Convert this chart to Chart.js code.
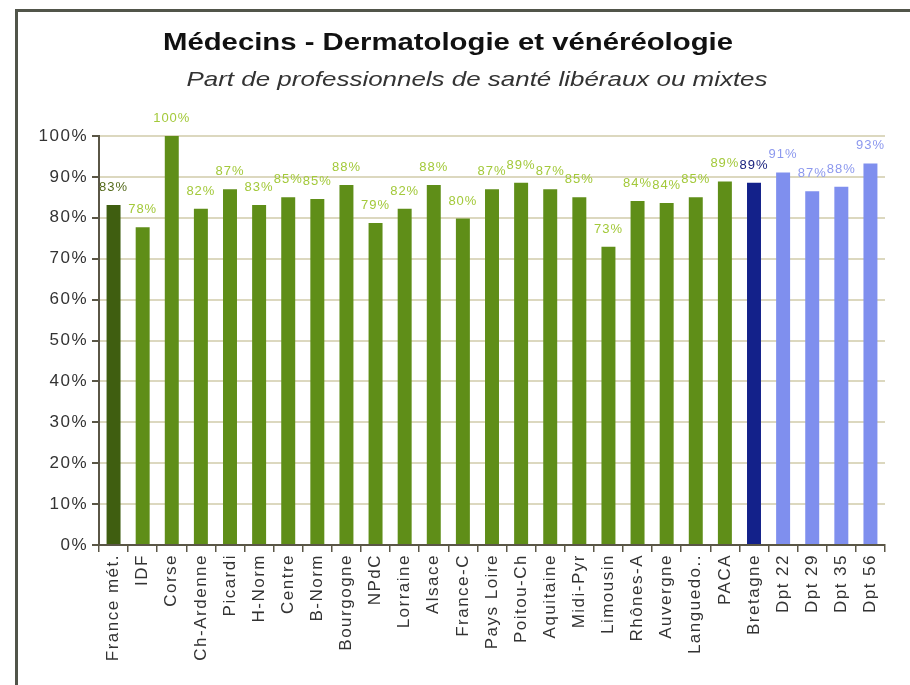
<!DOCTYPE html>
<html>
<head>
<meta charset="utf-8">
<script src="https://cdn.jsdelivr.net/npm/chart.js@4/dist/chart.umd.min.js"></script>
<style>
  html, body { margin: 0; padding: 0; background: #fff; }
  #wrap { position: relative; width: 910px; height: 685px; overflow: hidden; }
  #frame { position: absolute; left: 15px; top: 9px; width: 1000px; height: 800px; border: 3px solid #51554a; box-sizing: border-box; }
  canvas { position: absolute; left: 0; top: 0; }
</style>
</head>
<body>
<div id="wrap">
  <div id="frame"></div>
  <canvas id="chart" width="910" height="685"></canvas>
</div>
<script>
const titleText = 'Médecins - Dermatologie et vénéréologie';
const subtitleText = 'Part de professionnels de santé libéraux ou mixtes';

const categories = ['France mét.', 'IDF', 'Corse', 'Ch-Ardenne', 'Picardi', 'H-Norm', 'Centre', 'B-Norm',
  'Bourgogne', 'NPdC', 'Lorraine', 'Alsace', 'France-C', 'Pays Loire', 'Poitou-Ch', 'Aquitaine',
  'Midi-Pyr', 'Limousin', 'Rhônes-A', 'Auvergne', 'Languedo..', 'PACA', 'Bretagne',
  'Dpt 22', 'Dpt 29', 'Dpt 35', 'Dpt 56'];

const values = [83.1, 77.7, 100, 82.2, 87.0, 83.1, 85.0, 84.6,
  88.0, 78.7, 82.2, 88.0, 79.8, 87.0, 88.6, 87.0,
  85.0, 72.9, 84.1, 83.6, 85.0, 88.9, 88.6,
  91.1, 86.5, 87.6, 93.3];

const yTicks = [0, 10, 20, 30, 40, 50, 60, 70, 80, 90, 100];

// groupe de chaque barre : france, region, bretagne, dpt
const groups = ['france', 'region', 'region', 'region', 'region', 'region', 'region', 'region',
  'region', 'region', 'region', 'region', 'region', 'region', 'region', 'region',
  'region', 'region', 'region', 'region', 'region', 'region', 'bretagne',
  'dpt', 'dpt', 'dpt', 'dpt'];

const barColors = { france: '#3f5e10', region: '#5f8e18', bretagne: '#13218a', dpt: '#7f8fee' };
const labelColors = { france: '#556b1c', region: '#a3c93a', bretagne: '#1a237e', dpt: '#8c98ee' };

// texte un peu plus large, comme dans l'original
const spacing = {
  id: 'spacing',
  beforeLayout(chart) { chart.ctx.letterSpacing = '1.5px'; },
  beforeDraw(chart) { chart.ctx.letterSpacing = '1.5px'; }
};

function wideText(ctx, text, x, y, targetWidth) {
  const w = ctx.measureText(text).width;
  ctx.save();
  ctx.translate(x, y);
  ctx.scale(targetWidth / w, 1);
  ctx.fillText(text, 0, 0);
  ctx.restore();
}

const titlesPlugin = {
  id: 'titles',
  afterDraw(chart) {
    const ctx = chart.ctx;
    ctx.save();
    ctx.letterSpacing = '0px';
    ctx.textAlign = 'center';
    ctx.textBaseline = 'alphabetic';
    ctx.fillStyle = '#111';
    ctx.font = 'bold 23px Arial, sans-serif';
    wideText(ctx, titleText, 448, 50, 570);
    ctx.fillStyle = '#333';
    ctx.font = 'italic 21px Arial, sans-serif';
    wideText(ctx, subtitleText, 477, 86, 581);
    ctx.restore();
  }
};

const valueLabels = {
  id: 'valueLabels',
  afterDatasetsDraw(chart) {
    const ctx = chart.ctx;
    const meta = chart.getDatasetMeta(0);
    ctx.save();
    ctx.letterSpacing = '1px';
    ctx.font = '13px Arial, sans-serif';
    ctx.textAlign = 'center';
    ctx.textBaseline = 'alphabetic';
    meta.data.forEach((bar, i) => {
      ctx.fillStyle = labelColors[groups[i]];
      ctx.fillText(Math.round(values[i]) + '%', bar.x, bar.y - 14);
    });
    ctx.restore();
  }
};

const ctx = document.getElementById('chart').getContext('2d');
new Chart(ctx, {
  type: 'bar',
  data: {
    labels: categories,
    datasets: [{
      data: values,
      backgroundColor: groups.map(g => barColors[g]),
      barPercentage: 0.48,
      categoryPercentage: 1.0
    }]
  },
  options: {
    responsive: false,
    animation: false,
    layout: { padding: { top: 136, right: 25, left: 10, bottom: 0 } },
    plugins: {
      legend: { display: false },
      tooltip: { enabled: false },
      title: { display: false }
    },
    scales: {
      x: {
        grid: { display: true, drawOnChartArea: false, tickLength: 7, color: '#5a5646', lineWidth: 1.5 },
        border: { color: '#5a5646', width: 2 },
        ticks: {
          autoSkip: false, maxRotation: 90, minRotation: 90,
          color: '#333', font: { family: 'Arial, sans-serif', size: 17 }, padding: 2
        },
        afterFit(scale) { scale.height = 140; }
      },
      y: {
        min: 0, max: 100,
        afterBuildTicks(scale) { scale.ticks = yTicks.map(v => ({ value: v })); },
        grid: { color: '#dcd8bf', lineWidth: 2, tickLength: 7, tickColor: '#5a5646' },
        border: { color: '#5a5646', width: 2 },
        ticks: {
          color: '#333', font: { family: 'Arial, sans-serif', size: 17 }, padding: 4,
          callback: v => v + '%'
        },
        afterFit(scale) { scale.width = 89; }
      }
    }
  },
  plugins: [spacing, titlesPlugin, valueLabels]
});
</script>
</body>
</html>
